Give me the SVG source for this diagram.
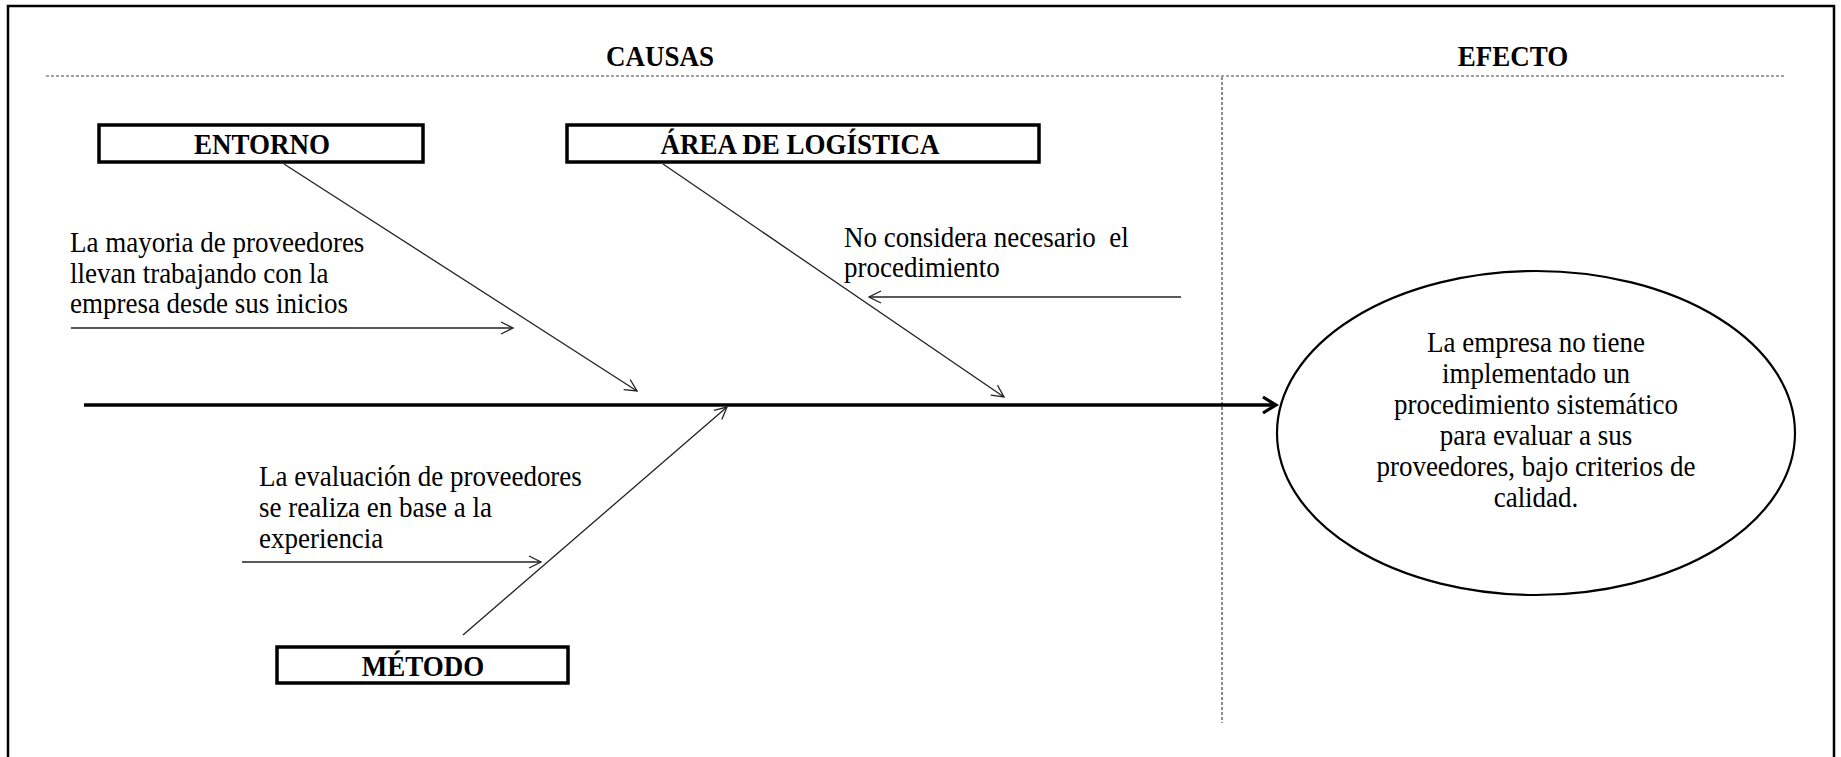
<svg xmlns="http://www.w3.org/2000/svg" width="1841" height="757" viewBox="0 0 1841 757">
<style>
.t{font-family:"Liberation Serif","Times New Roman",serif;font-size:30px;fill:#000}
.b{font-weight:bold}
.m{text-anchor:middle}
.box{fill:#fff;stroke:#000;stroke-width:3.5}
.thin{stroke:#222;stroke-width:1.3;fill:none}
.dash{stroke:#444;stroke-width:1.2;stroke-dasharray:3 2;fill:none}
</style>
<defs>
<marker id="ah" markerUnits="userSpaceOnUse" markerWidth="20" markerHeight="20" refX="13" refY="7" orient="auto" viewBox="0 0 20 20">
<path d="M1,1 L13,7 L1,13" fill="none" stroke="#222" stroke-width="1.3"/>
</marker>
<marker id="ahb" markerUnits="userSpaceOnUse" markerWidth="24" markerHeight="24" refX="16" refY="10" orient="auto" viewBox="0 0 24 24">
<path d="M3,2 L16,10 L3,18" fill="none" stroke="#000" stroke-width="3.2"/>
</marker>
</defs>
<rect width="1841" height="757" fill="#fff"/>
<path d="M8,760 V6 H1834 V760" fill="none" stroke="#000" stroke-width="2.5"/>
<g id="headers">
<line class="dash" x1="46" y1="76" x2="1785" y2="76"/>
<line class="dash" x1="1222" y1="77" x2="1222" y2="723"/>
<text class="t b m" transform="translate(660 66) scale(0.9 1)">CAUSAS</text>
<text class="t b m" transform="translate(1513 66) scale(0.9 1)">EFECTO</text>
</g>
<g id="connectors">
<line x1="84" y1="405" x2="1276" y2="405" stroke="#000" stroke-width="3.5" marker-end="url(#ahb)"/>
<line class="thin" x1="284" y1="164" x2="637" y2="391" marker-end="url(#ah)"/>
<line class="thin" x1="663" y1="164" x2="1004" y2="397" marker-end="url(#ah)"/>
<line class="thin" x1="463" y1="635" x2="727" y2="407" marker-end="url(#ah)"/>
<line class="thin" x1="71" y1="328" x2="513" y2="328" marker-end="url(#ah)"/>
<line class="thin" x1="1181" y1="297" x2="869" y2="297" marker-end="url(#ah)"/>
<line class="thin" x1="242" y1="562" x2="541" y2="562" marker-end="url(#ah)"/>
</g>
<g id="entorno">
<rect class="box" x="99" y="125" width="324" height="37"/>
<text class="t b m" transform="translate(262 154) scale(0.9 1)">ENTORNO</text>
</g>
<g id="logistica">
<rect class="box" x="567" y="125" width="472" height="37"/>
<text class="t b m" transform="translate(800 154) scale(0.9 1)">ÁREA DE LOGÍSTICA</text>
</g>
<g id="metodo">
<rect class="box" x="277" y="647" width="291" height="36"/>
<text class="t b m" transform="translate(423 676) scale(0.9 1)">MÉTODO</text>
</g>
<g id="causa-entorno">
<text class="t" transform="translate(70 252) scale(0.9 1)">La mayoria de proveedores</text>
<text class="t" transform="translate(70 283) scale(0.9 1)">llevan trabajando con la</text>
<text class="t" transform="translate(70 313) scale(0.9 1)">empresa desde sus inicios</text>
</g>
<g id="causa-logistica">
<text class="t" transform="translate(844 247) scale(0.9 1)" xml:space="preserve">No considera necesario  el</text>
<text class="t" transform="translate(844 277) scale(0.9 1)">procedimiento</text>
</g>
<g id="causa-metodo">
<text class="t" transform="translate(259 486) scale(0.9 1)">La evaluación de proveedores</text>
<text class="t" transform="translate(259 517) scale(0.9 1)">se realiza en base a la</text>
<text class="t" transform="translate(259 548) scale(0.9 1)">experiencia</text>
</g>
<g id="efecto">
<ellipse cx="1536" cy="433" rx="259" ry="162" fill="#fff" stroke="#000" stroke-width="2.2"/>
<text class="t m" transform="translate(1536 352) scale(0.9 1)">La empresa no tiene</text>
<text class="t m" transform="translate(1536 383) scale(0.9 1)">implementado un</text>
<text class="t m" transform="translate(1536 414) scale(0.9 1)">procedimiento sistemático</text>
<text class="t m" transform="translate(1536 445) scale(0.9 1)">para evaluar a sus</text>
<text class="t m" transform="translate(1536 476) scale(0.9 1)">proveedores, bajo criterios de</text>
<text class="t m" transform="translate(1536 507) scale(0.9 1)">calidad.</text>
</g>
</svg>
